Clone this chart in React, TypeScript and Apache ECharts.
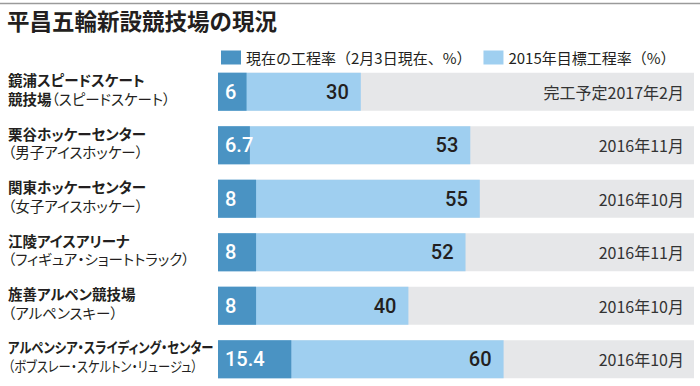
import React, { useEffect, useRef } from "react";
import * as echarts from "echarts";

const venueLine1 = [
  "鏡浦スピードスケート",
  "栗谷ホッケーセンター",
  "関東ホッケーセンター",
  "江陵アイスアリーナ",
  "旌善アルペン競技場",
  "アルペンシア・スライディング・センター",
];
const venueLine2 = [
  "競技場（スピードスケート）",
  "（男子アイスホッケー）",
  "（女子アイスホッケー）",
  "（フィギュア・ショートトラック）",
  "（アルペンスキー）",
  "（ボブスレー・スケルトン・リュージュ）",
];
const currentRate = [6, 6.7, 8, 8, 8, 15.4];
const targetRate = [30, 53, 55, 52, 40, 60];
const completion = [
  "完工予定2017年2月",
  "2016年11月",
  "2016年10月",
  "2016年11月",
  "2016年10月",
  "2016年10月",
];
const fullScale = [100, 100, 100, 100, 100, 100];
const seriesNames = ["現在の工程率（2月3日現在、%）", "2015年目標工程率（%）"];

const CJK = "'Noto Sans CJK JP', sans-serif";
const CJK_PALT = "'Noto Sans CJK JP', paltx, sans-serif";
const NUM = "Roboto, sans-serif";

export default function App() {
  const ref = useRef<HTMLDivElement>(null);
  useEffect(() => {
    if (!ref.current) return;
    const chart = echarts.init(ref.current, undefined, { renderer: "svg" });
    const cats = venueLine1.map((_, i) => String(i));
    const labelText = (i: number) => {
      const l2 = venueLine2[i];
      const p = l2.indexOf("（");
      const boldPart = p > 0 ? l2.slice(0, p) : "";
      const rest = p > 0 ? l2.slice(p) : l2;
      return `{b|${venueLine1[i]}}\n` + (boldPart ? `{b|${boldPart}}` : "") + `{n|${rest}}`;
    };
    const longest = Math.max(...venueLine1.map((s) => s.length), ...venueLine2.map((s) => s.length));
    chart.setOption({
      animation: false,
      backgroundColor: "#ffffff",
      title: {
        text: "平昌五輪新設競技場の現況",
        left: 7,
        top: 9,
        padding: 0,
        textStyle: { fontSize: 22.5, fontWeight: "bold", color: "#231f20", fontFamily: CJK },
      },
      graphic: [
        {
          type: "line",
          shape: { x1: 0, y1: 3.5, x2: 700, y2: 3.5 },
          style: { stroke: "#9a9a9a", lineWidth: 1.5 },
        },
      ],
      legend: {
        data: seriesNames,
        left: 216,
        top: 45,
        icon: "rect",
        itemWidth: 20,
        itemHeight: 14,
        itemGap: 12,
        textStyle: { fontSize: 15, color: "#231f20", fontFamily: CJK },
      },
      grid: { left: 218, right: 6, top: 65, height: 322 },
      xAxis: { type: "value", min: 0, max: 100, show: false },
      yAxis: {
        type: "category",
        data: cats,
        inverse: true,
        axisLine: { show: false },
        axisTick: { show: false },
        axisLabel: { show: false },
      },
      series: [
        {
          name: "bg",
          type: "bar",
          data: fullScale,
          barWidth: 38,
          barGap: "-100%",
          itemStyle: { color: "#e6e7e9" },
          silent: true,
          label: {
            show: true,
            position: "insideRight",
            distance: 10,
            formatter: (p: any) => completion[p.dataIndex],
            fontSize: 16,
            color: "#333333",
            fontFamily: CJK,
          },
        },
        {
          name: seriesNames[1],
          type: "bar",
          data: targetRate,
          barWidth: 38,
          barGap: "-100%",
          itemStyle: { color: "#9fcff0" },
          label: {
            show: true,
            position: "insideRight",
            distance: 12,
            fontSize: 20,
            fontWeight: 500,
            color: "#231f20",
            fontFamily: NUM,
          },
        },
        {
          name: seriesNames[0],
          type: "bar",
          data: currentRate,
          barWidth: 38,
          barGap: "-100%",
          itemStyle: { color: "#4a93c3" },
          label: {
            show: true,
            position: "insideLeft",
            distance: 7,
            fontSize: 20,
            fontWeight: 500,
            color: "#ffffff",
            fontFamily: NUM,
          },
        },
        {
          name: "labels",
          type: "custom",
          silent: true,
          clip: false,
          z: 10,
          data: cats.map((c, i) => [0, i]),
          encode: { x: 0, y: 1 },
          renderItem: (params: any, api: any) => {
            const i = params.dataIndex;
            const y = api.coord([0, i])[1];
            const len = Math.max(venueLine1[i].length, venueLine2[i].length);
            const sx = len >= longest ? 0.85 : 1;
            return {
              type: "text",
              x: 8,
              y: y - 3,
              scaleX: sx,
              style: {
                text: labelText(i),
                align: "left",
                verticalAlign: "middle",
                rich: {
                  b: { fontSize: 14.5, fontWeight: "bold", fill: "#231f20", lineHeight: 18.5, fontFamily: CJK_PALT },
                  n: { fontSize: 14.5, fontWeight: "normal", fill: "#231f20", lineHeight: 18.5, fontFamily: CJK_PALT },
                },
              },
            };
          },
        },
      ],
    });
    return () => chart.dispose();
  }, []);
  return (
    <>
      <style>{`
        body { margin: 0; }
        text[style*="paltx"], text[font-family*="paltx"] { font-feature-settings: "palt" !important; }
      `}</style>
      <div ref={ref} style={{ position: "absolute", left: 0, top: 0, width: 700, height: 386 }} />
    </>
  );
}
